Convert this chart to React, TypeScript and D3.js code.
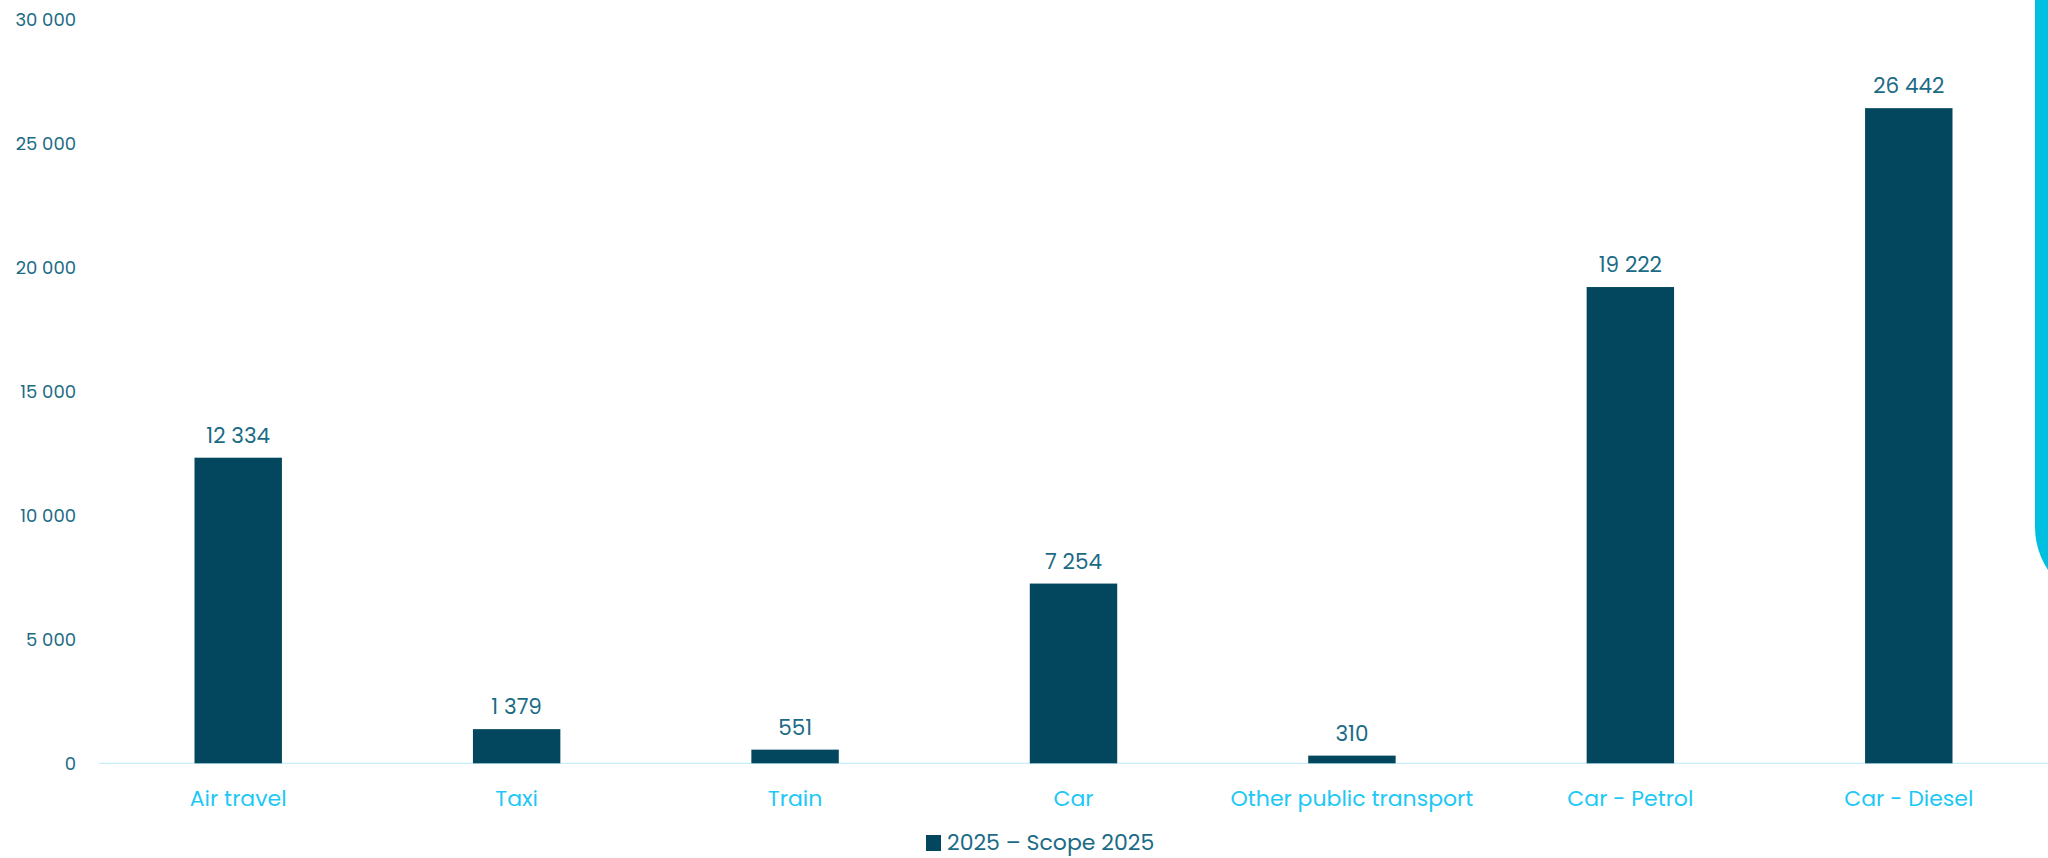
import React, { useEffect, useRef } from "react";
import * as d3 from "d3";

const categories = ["Air travel", "Taxi", "Train", "Car", "Other public transport", "Car - Petrol", "Car - Diesel"];
const values2025 = [12334, 1379, 551, 7254, 310, 19222, 26442];
const yTicks = [0, 5000, 10000, 15000, 20000, 25000, 30000];
const legendLabel = "2025 – Scope 2025";

const W = 2048;
const H = 858;
const FONT = "Poppins, 'Open Sans', Lato, sans-serif";

const fmt = (v: number) => d3.format(",")(v).replace(/,/g, " ");

export default function App() {
  const ref = useRef<SVGSVGElement | null>(null);
  useEffect(() => {
    const svg = d3.select(ref.current);
    svg.selectAll("*").remove();

    const x = d3.scaleBand<string>().domain(categories).range([99, 2048]).padding(0);
    const y = d3.scaleLinear().domain([0, 30000]).range([763.3, 20]);
    const barW = x.bandwidth() * 0.314;

    // decorative cyan rounded shape on the right
    svg.append("rect")
      .attr("x", 2035).attr("y", -100).attr("width", 200).attr("height", 705)
      .attr("rx", 78).attr("ry", 78).attr("fill", "#00bfe0");

    // y axis labels
    svg.append("g").selectAll("text").data(yTicks).join("text")
      .attr("x", 76).attr("y", (d) => y(d)).attr("dy", "0.35em")
      .attr("text-anchor", "end").attr("font-family", FONT).attr("font-size", 18)
      .attr("fill", "#1b6b86").text((d) => fmt(d));

    // baseline
    svg.append("line").attr("x1", 99).attr("x2", 2048).attr("y1", y(0)).attr("y2", y(0))
      .attr("stroke", "#c8eefa").attr("stroke-width", 1.2);

    // bars
    svg.append("g").selectAll("rect").data(values2025).join("rect")
      .attr("x", (_, i) => x(categories[i])! + x.bandwidth() / 2 - barW / 2)
      .attr("y", (d) => y(d)).attr("width", barW).attr("height", (d) => y(0) - y(d))
      .attr("fill", "#02475e");

    // value labels
    svg.append("g").selectAll("text").data(values2025).join("text")
      .attr("x", (_, i) => x(categories[i])! + x.bandwidth() / 2)
      .attr("y", (d) => y(d) - 15)
      .attr("text-anchor", "middle").attr("font-family", FONT).attr("font-size", 21.5)
      .attr("fill", "#1b6b86").text((d) => fmt(d));

    // x labels
    svg.append("g").selectAll("text").data(categories).join("text")
      .attr("x", (d) => x(d)! + x.bandwidth() / 2).attr("y", 806)
      .attr("text-anchor", "middle").attr("font-family", FONT).attr("font-size", 22)
      .attr("fill", "#1ec8f5").text((d) => d);

    // legend
    const lg = svg.append("g");
    lg.append("rect").attr("x", 926).attr("y", 835).attr("width", 15).attr("height", 16).attr("fill", "#02475e");
    lg.append("text").attr("x", 947).attr("y", 850)
      .attr("font-family", FONT).attr("font-size", 22).attr("fill", "#1b6b86").text(legendLabel);
  }, []);

  return (
    <svg ref={ref} width={W} height={H} style={{ position: "absolute", left: 0, top: 0, background: "#fff" }} />
  );
}
